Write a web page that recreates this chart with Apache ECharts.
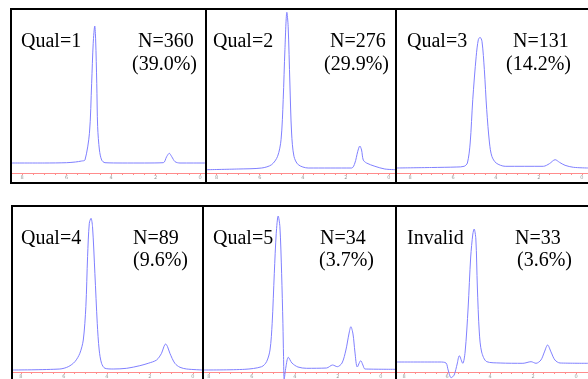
<!DOCTYPE html>
<html>
<head>
<meta charset="utf-8">
<script src="https://cdn.jsdelivr.net/npm/echarts@6/dist/echarts.min.js"></script>
<style>
  html, body { margin: 0; padding: 0; background: #fff; }
  #chart { width: 588px; height: 379px; }
</style>
</head>
<body>
<div id="chart"></div>
<script>
// panel labels
const qualLabels = ['Qual=1', 'Qual=2', 'Qual=3', 'Qual=4', 'Qual=5', 'Invalid']
const nLabels = ['N=360', 'N=276', 'N=131', 'N=89', 'N=34', 'N=33']
const pctLabels = ['(39.0%)', '(29.9%)', '(14.2%)', '(9.6%)', '(3.7%)', '(3.6%)']

// ppm axis ticks
const majorTicks = [0, 2, 4, 6, 8]
const minorTicks = [0, 0.5, 1, 1.5, 2, 2.5, 3, 3.5, 4, 4.5, 5, 5.5, 6, 6.5, 7, 7.5, 8]

// spectra (ppm, intensity a.u.)
const p1Ppm = [8.45, 7.0, 6.0, 5.6, 5.32, 5.17, 4.97, 4.87, 4.80, 4.73, 4.69, 4.64, 4.60, 4.52, 4.42, 4.27, 3.5, 2.5, 1.65, 1.50, 1.38, 1.27, 1.12, 0.90, 0.3, -0.27]
const p1Int = [10, 10, 10.3, 11, 12, 13, 39.7, 89.7, 129.7, 147, 133, 89.7, 46.3, 23, 13, 10.3, 10, 10, 10.3, 16.3, 19.7, 16.3, 11.3, 10, 10, 10]

const p2Ppm = [8.45, 7.0, 5.91, 5.45, 5.17, 5.01, 4.91, 4.83, 4.74, 4.68, 4.60, 4.52, 4.41, 4.21, 3.75, 1.73, 1.58, 1.45, 1.35, 1.27, 1.19, 1.04, 0.65, 0.19, -0.33]
const p2Int = [3.3, 4, 5, 8.3, 16.7, 33.3, 73.3, 123.3, 160.7, 146.7, 90, 40, 16.7, 8.3, 5, 5, 10, 21.3, 27, 23, 13, 10, 6.7, 4, 3.3]

const p3Ppm = [8.61, 7.0, 5.82, 5.48, 5.33, 5.20, 5.08, 4.92, 4.82, 4.74, 4.65, 4.54, 4.43, 4.30, 4.19, 3.99, 3.57, 1.79, 1.51, 1.24, 1.04, 0.78, 0.39, -0.29]
const p3Int = [5, 5.5, 6, 6.7, 10, 30, 73.3, 116.7, 133.3, 135.7, 131.7, 103.3, 63.3, 30, 16.7, 10, 6.7, 6.7, 9.3, 13.3, 10.7, 7.7, 5.7, 5]

const p4Ppm = [8.37, 6.19, 5.80, 5.49, 5.26, 5.10, 4.98, 4.90, 4.82, 4.74, 4.67, 4.56, 4.45, 4.36, 4.25, 4.09, 3.71, 3.08, 2.47, 2.08, 1.69, 1.46, 1.35, 1.27, 1.18, 1.07, 0.84, 0.60, 0.29, -0.47]
const p4Int = [2, 3, 5.3, 10.3, 18.7, 32, 65.3, 115.3, 148.7, 153.7, 145.3, 98.7, 48.7, 22, 8.7, 3.7, 3, 3.7, 6.3, 8.7, 12, 18.7, 25.3, 28, 25.3, 18.7, 8.7, 4.7, 3, 2]

const p5Ppm = [8.23, 6.33, 5.55, 5.32, 5.16, 5.06, 4.96, 4.87, 4.78, 4.70, 4.62, 4.56, 4.53, 4.50, 4.42, 4.31, 4.14, 3.86, 3.46, 2.53, 2.25, 2.03, 1.81, 1.63, 1.49, 1.40, 1.30, 1.21, 1.10, 0.94, 0.84, 0.74, -0.70]
const p5Int = [2, 2.7, 5.3, 10.3, 22, 48.7, 98.7, 138.7, 156, 145.3, 98.7, 48.7, 15.3, -7, 5, 14.7, 9, 5, 3.7, 4, 7, 5.3, 9, 22, 38, 45.3, 38, 20, 5, 11.3, 7, 3, 2.7]

const p6Ppm = [8.33, 6.33, 6.05, 5.95, 5.81, 5.67, 5.53, 5.43, 5.27, 5.16, 5.02, 4.90, 4.80, 4.74, 4.66, 4.59, 4.50, 4.39, 4.15, 3.53, 2.47, 2.09, 1.86, 1.63, 1.47, 1.32, 1.16, 0.98, 0.74, -0.56]
const p6Int = [10, 10, 9, 2, -5.7, -3, 8, 16.3, 8.7, 20, 64, 115, 138, 143, 133, 85, 40, 20, 10.3, 9, 8.7, 10.3, 8.7, 12, 20, 27, 20, 12, 9, 8.7]

const spectra = [[p1Ppm, p1Int], [p2Ppm, p2Int], [p3Ppm, p3Int], [p4Ppm, p4Int], [p5Ppm, p5Int], [p6Ppm, p6Int]]

// layout of each panel (pixels) and ppm range shown
const panels = [
  { left: 12, top: 10, width: 194, height: 163, ppmMin: -0.27, ppmMax: 8.45, q: [21, 42], n: [138, 42], p: [132, 65] },
  { left: 207, top: 10, width: 189, height: 163, ppmMin: -0.33, ppmMax: 8.45, q: [213, 42], n: [330, 42], p: [324, 65] },
  { left: 397, top: 10, width: 191, height: 163, ppmMin: -0.29, ppmMax: 8.61, q: [407, 42], n: [513, 42], p: [506, 65] },
  { left: 13, top: 207, width: 190, height: 165, ppmMin: -0.47, ppmMax: 8.37, q: [21, 239], n: [133, 239], p: [133, 261] },
  { left: 204, top: 207, width: 192, height: 165, ppmMin: -0.70, ppmMax: 8.23, q: [213, 239], n: [320, 239], p: [319, 261] },
  { left: 397, top: 207, width: 191, height: 165, ppmMin: -0.56, ppmMax: 8.33, q: [407, 239], n: [515, 239], p: [517, 261] }
]

const grids = []
const xAxes = []
const yAxes = []
const series = []
const graphics = []

panels.forEach((pn, i) => {
  grids.push({ left: pn.left, top: pn.top, width: pn.width, height: pn.height, containLabel: false })
  xAxes.push({
    type: 'value',
    gridIndex: i,
    inverse: true,
    min: pn.ppmMin,
    max: pn.ppmMax,
    axisLine: { show: true, lineStyle: { color: '#ff8c8c', width: 1 } },
    axisTick: { show: true, customValues: minorTicks, length: 2, lineStyle: { color: '#ff8c8c' } },
    axisLabel: { customValues: majorTicks, fontSize: 5, color: '#999', margin: 2, fontFamily: 'DejaVu Sans' },
    splitLine: { show: false }
  })
  yAxes.push({ type: 'value', gridIndex: i, min: 0, max: pn.height, show: false })
  const ppm = spectra[i][0]
  const inten = spectra[i][1]
  series.push({
    type: 'line',
    xAxisIndex: i,
    yAxisIndex: i,
    data: ppm.map((v, k) => [v, inten[k]]),
    smooth: 0.3,
    symbol: 'none',
    clip: false,
    lineStyle: { color: '#8080ff', width: 1 },
    silent: true
  })
  const font = '20px "Liberation Serif", "Times New Roman", serif'
  graphics.push({ type: 'text', x: pn.q[0], y: pn.q[1], style: { text: qualLabels[i], font: font, fill: '#000', verticalAlign: 'middle' } })
  graphics.push({ type: 'text', x: pn.n[0], y: pn.n[1], style: { text: nLabels[i], font: font, fill: '#000', verticalAlign: 'middle' } })
  graphics.push({ type: 'text', x: pn.p[0], y: pn.p[1], style: { text: pctLabels[i], font: font, fill: '#000', verticalAlign: 'middle' } })
})

// panel frames
const frame = { fill: 'none', stroke: '#000', lineWidth: 2 }
graphics.push({ type: 'rect', z: 100, shape: { x: 11, y: 9, width: 600, height: 174 }, style: frame })
graphics.push({ type: 'line', z: 100, shape: { x1: 206, y1: 9, x2: 206, y2: 183 }, style: frame })
graphics.push({ type: 'line', z: 100, shape: { x1: 396, y1: 9, x2: 396, y2: 183 }, style: frame })
graphics.push({ type: 'rect', z: 100, shape: { x: 12, y: 206, width: 600, height: 200 }, style: frame })
graphics.push({ type: 'line', z: 100, shape: { x1: 203, y1: 206, x2: 203, y2: 400 }, style: frame })
graphics.push({ type: 'line', z: 100, shape: { x1: 396, y1: 206, x2: 396, y2: 400 }, style: frame })

const chart = echarts.init(document.getElementById('chart'))
chart.setOption({
  animation: false,
  backgroundColor: '#fff',
  grid: grids,
  xAxis: xAxes,
  yAxis: yAxes,
  series: series,
  graphic: graphics
})
</script>
</body>
</html>
